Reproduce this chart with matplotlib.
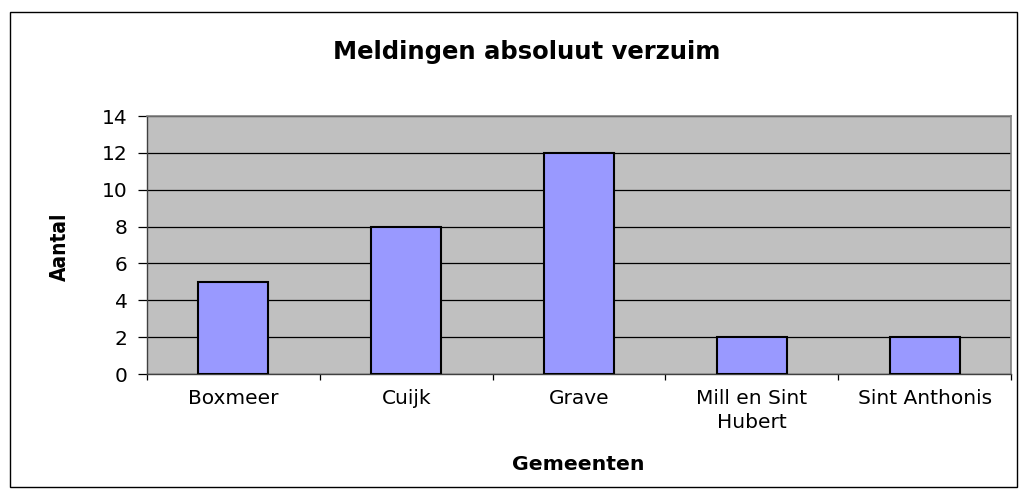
import matplotlib
matplotlib.use("Agg")
import matplotlib.pyplot as plt
from matplotlib.patches import Rectangle

categories = ["Boxmeer", "Cuijk", "Grave", "Mill en Sint\nHubert", "Sint Anthonis"]
values = [5, 8, 12, 2, 2]
yticks = [0, 2, 4, 6, 8, 10, 12, 14]

plt.rcParams['font.family'] = ['DejaVu Sans']

W, H = 1025, 495
fig = plt.figure(figsize=(W/100, H/100), dpi=100)
fig.patch.set_facecolor('white')
fig.patches.append(Rectangle((10/W, 1-487/H), (1017-10)/W, (487-12)/H,
                             transform=fig.transFigure, fill=False,
                             edgecolor='black', linewidth=1.0))

ax = fig.add_axes([147/W, 1-374/H, (1011-147)/W, (374-116)/H])
ax.set_facecolor('#C0C0C0')
x = list(range(len(categories)))
ax.bar(x, values, width=0.405, color='#9999FF', edgecolor='black', linewidth=1.5, zorder=3)
ax.set_xlim(-0.5, len(categories)-0.5)
ax.set_ylim(0, 14)
ax.set_yticks(yticks)
ax.set_yticklabels([str(t) for t in yticks], fontsize=14.5)
ax.yaxis.grid(True, color='black', linewidth=0.9, zorder=1)
ax.set_axisbelow(True)
ax.set_xticks(x)
ax.set_xticklabels(categories, fontsize=14.5, linespacing=1.3)
ax.tick_params(axis='x', length=0, pad=11)
ax.set_xticks([i + 0.5 for i in range(-1, len(categories))], minor=True)
ax.tick_params(axis='x', which='minor', length=4.5, direction='out', width=0.9)
ax.tick_params(axis='y', length=6.5, direction='out', width=0.9, pad=7.5)
for s in ['top', 'right']:
    ax.spines[s].set_color('#808080')
    ax.spines[s].set_linewidth(1.2)
for s in ['left', 'bottom']:
    ax.spines[s].set_color('#404040')
    ax.spines[s].set_linewidth(1.0)

fig.text(527/W, 1-52/H, "Meldingen absoluut verzuim", fontsize=17.5, fontweight='bold',
         ha='center', va='center')
fig.text(578/W, 1-465/H, "Gemeenten", fontsize=14.7, fontweight='bold', ha='center', va='center')
fig.text(60/W, 1-247/H, "Aantal", fontsize=15, fontweight='bold', ha='center', va='center',
         rotation=90, fontstretch='condensed')

fig.savefig("out.png", dpi=100)
